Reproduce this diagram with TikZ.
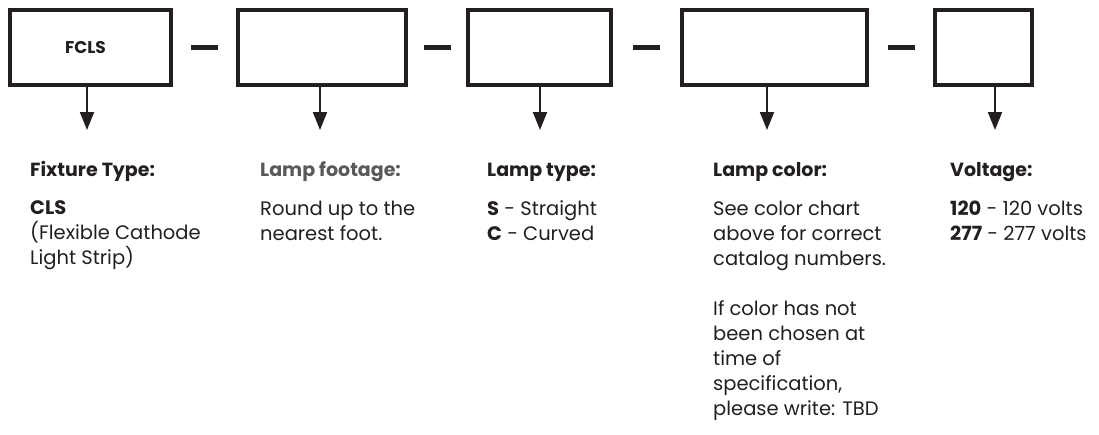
\documentclass[tikz,border=0pt]{standalone}
\usepackage{fontspec}
\setmainfont{Poppins}
\usetikzlibrary{arrows.meta,calc}
\definecolor{ink}{HTML}{231F20}
\definecolor{dimink}{HTML}{58595B}

\begin{document}
\begin{tikzpicture}[x=1pt, y=-1pt,
                    part box/.style={draw=ink, line width=4pt, inner sep=0pt, text=ink,
                                     font=\bfseries\fontsize{17}{20}\selectfont},
                    pointer/.style={draw=ink, line width=2pt, -{Triangle[width=14pt,length=18pt]}},
                    joiner/.style={draw=ink, line width=5pt},
                    key head/.style={anchor=base west, inner sep=0pt, text=ink,
                                     font=\bfseries\fontsize{19}{25}\selectfont},
                    key text/.style={anchor=north west, inner sep=0pt, align=left, text=ink,
                                     font=\fontsize{19.5}{25}\selectfont,
                                     execute at begin node=\strut}]
    \useasboundingbox (0,0) rectangle (1099,434);

    % code boxes
    \node[part box, minimum width=161pt, minimum height=75pt] (b1) at (90.5,47.5)  {FCLS\hspace*{10pt}};
    \node[part box, minimum width=168pt, minimum height=75pt] (b2) at (322,47.5)   {};
    \node[part box, minimum width=143pt, minimum height=75pt] (b3) at (539.5,47.5) {};
    \node[part box, minimum width=185pt, minimum height=75pt] (b4) at (774.5,47.5) {};
    \node[part box, minimum width=97pt,  minimum height=75pt] (b5) at (983.5,47.5) {};

    % dashes between boxes
    \draw[joiner] ($(b1.east)!0.5!(b2.west)$) +(-13.5,0) -- +(13.5,0);
    \draw[joiner] ($(b2.east)!0.5!(b3.west)$) +(-13.5,0) -- +(13.5,0);
    \draw[joiner] ($(b3.east)!0.5!(b4.west)$) +(-13.5,0) -- +(13.5,0);
    \draw[joiner] ($(b4.east)!0.5!(b5.west)$) +(-13.5,0) -- +(13.5,0);

    % arrow ends
    \coordinate (t1) at (87,130);
    \coordinate (t2) at (320,130);
    \coordinate (t3) at (540,130);
    \coordinate (t4) at (767,130);
    \coordinate (t5) at (995,130);

    \draw[pointer] (b1.south -| t1) -- (t1);
    \draw[pointer] (b2.south -| t2) -- (t2);
    \draw[pointer] (b3.south -| t3) -- (t3);
    \draw[pointer] (b4.south -| t4) -- (t4);
    \draw[pointer] (b5.south -| t5) -- (t5);

    % legend
    \node[key head] (h1) at (30,176)  {Fixture Type:};
    \node[key head, text=dimink] (h2) at (260,176) {Lamp footage:};
    \node[key head] (h3) at (487,176) {Lamp type:};
    \node[key head] (h4) at (713,176) {Lamp color:};
    \node[key head] (h5) at (950,176) {Voltage:};

    \node[key text] (n1) at (30,200.5)  {\textbf{CLS}\\(Flexible Cathode\\Light Strip)};
    \node[key text] (n2) at (260,200.5) {Round up to the\\nearest foot.};
    \node[key text] (n3) at (487,200.5) {\textbf{S} - Straight\\\textbf{C} - Curved};
    \node[key text] (n4) at (713,200.5) {See color chart\\above for correct\\catalog numbers.\\[25pt]
                                         If color has not\\been chosen at\\time of\\specification,\\please write: TBD};
    \node[key text] (n5) at (950,200.5) {\textbf{120} - 120 volts\\\textbf{277} - 277 volts};
\end{tikzpicture}
\end{document}
